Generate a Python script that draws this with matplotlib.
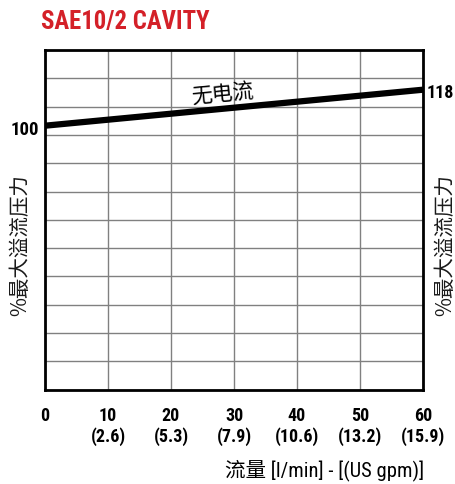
import numpy as np
import matplotlib
matplotlib.use("Agg")
import matplotlib.pyplot as plt

flow_lpm = [0, 60]
pressure_pct = [100, 118]
xticks = [0, 10, 20, 30, 40, 50, 60]
gpm_labels = ["", "(2.6)", "(5.3)", "(7.9)", "(10.6)", "(13.2)", "(15.9)"]
title = "SAE10/2 CAVITY"
curve_label = "无电流"
ylabel = "%最大溢流压力"
xlabel = "流量 [l/min] - [(US gpm)]"

COND = ["Roboto Condensed", "DejaVu Sans"]
CJK = ["Noto Sans CJK SC", "DejaVu Sans"]
MIX = ["Roboto Condensed", "Noto Sans CJK SC", "DejaVu Sans"]

W, H = 455, 485
fig = plt.figure(figsize=(W / 100, H / 100), dpi=100)
ax = fig.add_axes([45 / W, (H - 390.7) / H, (423 - 45) / W, (390.7 - 51) / H])

ylo, yhi = -32, 137.85
ax.set_xlim(0, 60)
ax.set_ylim(ylo, yhi)
ax.set_yticks(np.linspace(ylo, yhi, 13))
ax.set_xticks(xticks)
ax.grid(True, color="#808080", linewidth=1.0)
ax.tick_params(length=0, labelleft=False, labelbottom=False)
for s in ax.spines.values():
    s.set_linewidth(2.0)
    s.set_color("black")
    s.set_zorder(4)

ax.plot(flow_lpm, pressure_pct, color="black", linewidth=4.5, solid_capstyle="butt", zorder=3)

PT = 72 / 100  # points per pixel
for x, g in zip(xticks, gpm_labels):
    ax.annotate(str(x), xy=(x, ylo), xytext=(0, -30.3 * PT), textcoords="offset points",
                ha="center", va="baseline", fontsize=13, fontweight="bold", family=COND)
    if g:
        ax.annotate(g, xy=(x, ylo), xytext=(0, -51 * PT), textcoords="offset points",
                    ha="center", va="baseline", fontsize=13, fontweight="bold", family=COND)

ax.annotate(str(pressure_pct[0]), xy=(0, pressure_pct[0]), xytext=(-5.5 * PT, -8 * PT),
            textcoords="offset points", ha="right", va="baseline", fontsize=13.5,
            fontweight="bold", family=COND)
ax.annotate(str(pressure_pct[1]), xy=(60, pressure_pct[1]), xytext=(4 * PT, -7 * PT),
            textcoords="offset points", ha="left", va="baseline", fontsize=13,
            fontweight="bold", family=COND)

xl = 28.25
ax.annotate(curve_label, xy=(xl, 100 + 18 * xl / 60), xytext=(0, 15 * PT), textcoords="offset points",
            ha="center", va="center", fontsize=15, rotation=5.4, rotation_mode="anchor",
            family=CJK)

fig.text(41 / W, 1 - 29.3 / H, title, ha="left", va="baseline", fontsize=17.8,
         fontweight="heavy", color="#d42028", family=COND)

for xc in (20, 445):
    fig.text(xc / W, 1 - 245 / H, ylabel, rotation=90, ha="center", va="center",
             fontsize=14.8, fontweight="light", family=CJK, color="#1a1a1a")

fig.text(424 / W, 1 - 476.7 / H, xlabel, ha="right", va="baseline", fontsize=14.8,
         family=MIX)

fig.savefig("out.png", dpi=100)
